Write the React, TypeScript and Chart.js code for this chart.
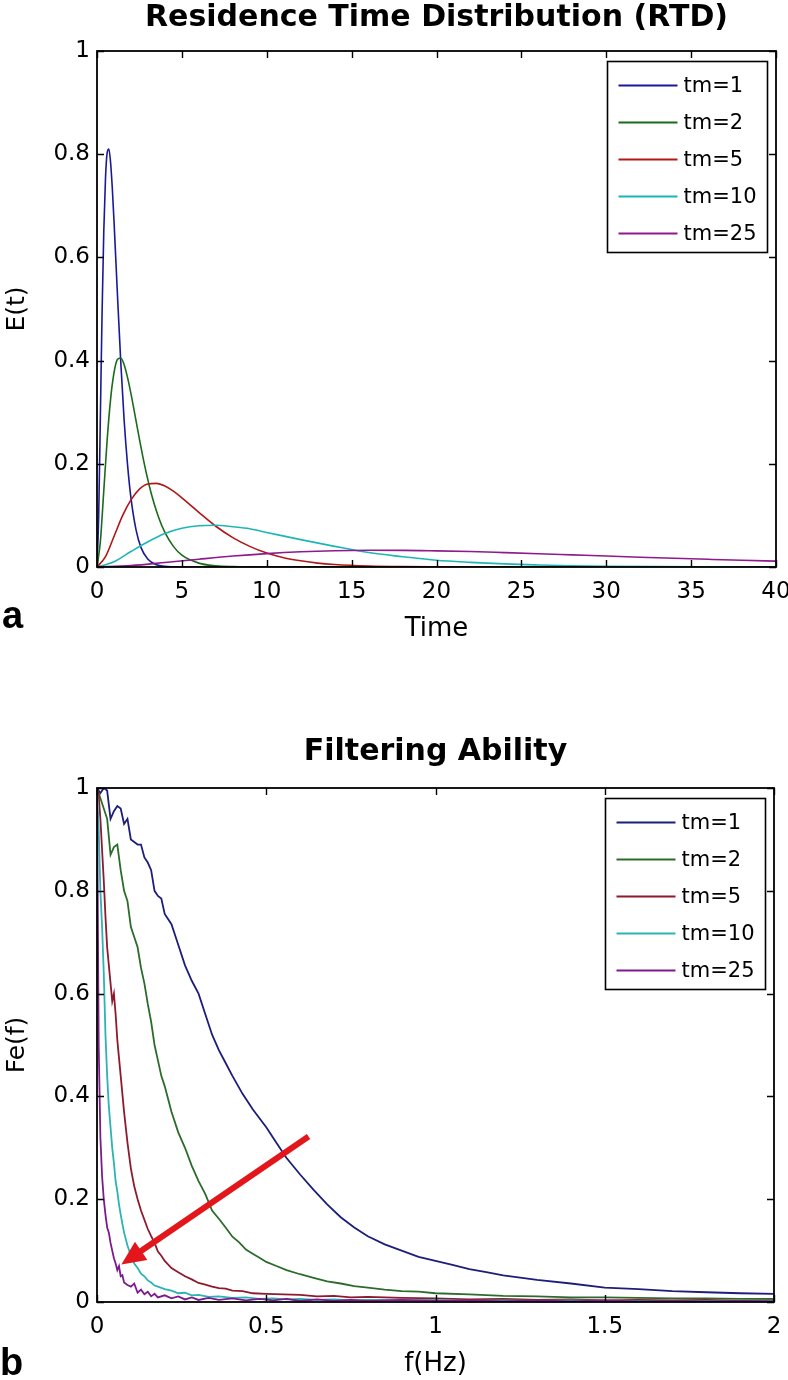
import React, { useEffect, useRef } from 'react';
import { Chart, registerables } from 'chart.js';

Chart.register(...registerables);

// ---------- shared ----------
const SERIES_LABELS = ['tm=1', 'tm=2', 'tm=5', 'tm=10', 'tm=25'];
const RTD_COLORS = ['#1a1a98', '#1b6b1b', '#b01818', '#1fb5b5', '#8e1a8e'];
const FE_COLORS = ['#1d1d7a', '#2b6b2b', '#8e1a2e', '#2cb3b3', '#7c1a8e'];
const Y_TICKS = [0, 0.2, 0.4, 0.6, 0.8, 1];

// ---------- panel a : Residence Time Distribution ----------
const TIME_TICKS = [0, 5, 10, 15, 20, 25, 30, 35, 40];

const TIME_TM1 = [0, 0.1, 0.2, 0.3, 0.4, 0.5, 0.6, 0.7, 0.8, 0.9, 1.0, 1.2, 1.4, 1.6, 1.8, 2.0, 2.3, 2.6, 3.0, 3.5, 4, 5, 6, 8, 10, 15, 20, 25, 30, 35, 40];
const E_TM1 = [0, 0.1, 0.296, 0.494, 0.651, 0.753, 0.803, 0.81, 0.784, 0.735, 0.672, 0.531, 0.397, 0.284, 0.198, 0.134, 0.072, 0.037, 0.015, 0.0045, 0.0013, 0.0001, 0, 0, 0, 0, 0, 0, 0, 0, 0];

const TIME_TM2 = [0, 0.2, 0.4, 0.6, 0.8, 1.0, 1.2, 1.4, 1.6, 1.8, 2.0, 2.2, 2.5, 2.8, 3.2, 3.6, 4, 4.5, 5, 6, 7, 8, 10, 15, 20, 25, 30, 35, 40];
const E_TM2 = [0, 0.05, 0.148, 0.247, 0.325, 0.376, 0.402, 0.405, 0.392, 0.367, 0.336, 0.301, 0.248, 0.198, 0.142, 0.099, 0.067, 0.04, 0.023, 0.0075, 0.0023, 0.0007, 0, 0, 0, 0, 0, 0, 0];

const TIME_TM5 = [0, 0.5, 1, 1.5, 2, 2.5, 3, 3.5, 4, 4.5, 5, 6, 7, 8, 9, 10, 11, 12, 13, 14, 16, 18, 20, 25, 30, 35, 40];
const E_TM5 = [0, 0.02, 0.059, 0.099, 0.13, 0.151, 0.161, 0.162, 0.157, 0.147, 0.134, 0.106, 0.079, 0.057, 0.04, 0.027, 0.018, 0.012, 0.0075, 0.0048, 0.0019, 0.0007, 0.0003, 0, 0, 0, 0];

const TIME_TM10 = [0, 1, 2, 3, 4, 5, 6, 7, 8, 9, 10, 12, 14, 16, 18, 20, 22, 24, 26, 28, 30, 33, 36, 40];
const E_TM10 = [0, 0.01, 0.03, 0.049, 0.065, 0.075, 0.08, 0.081, 0.078, 0.074, 0.067, 0.053, 0.04, 0.028, 0.02, 0.013, 0.009, 0.006, 0.004, 0.0024, 0.0015, 0.0007, 0.0004, 0.0001];

const TIME_TM25 = [0, 2, 4, 6, 8, 10, 12, 14, 16, 18, 20, 22, 24, 26, 28, 30, 32, 34, 36, 38, 40];
const E_TM25 = [0, 0.0027, 0.0086, 0.0151, 0.0212, 0.026, 0.0295, 0.0316, 0.0324, 0.0323, 0.0313, 0.0299, 0.0279, 0.0258, 0.0235, 0.0212, 0.019, 0.0169, 0.0149, 0.013, 0.0114];

// ---------- panel b : Filtering Ability ----------
const FREQ_TICKS = [0, 0.5, 1, 1.5, 2];

const FREQ_TM1 = [0, 0.01, 0.02, 0.03, 0.04, 0.05, 0.06, 0.07, 0.08, 0.09, 0.1, 0.11, 0.12, 0.13, 0.14, 0.15, 0.16, 0.17, 0.18, 0.19, 0.2, 0.22, 0.24, 0.26, 0.28, 0.3, 0.32, 0.34, 0.36, 0.38, 0.4, 0.43, 0.46, 0.5, 0.53, 0.56, 0.6, 0.64, 0.68, 0.72, 0.76, 0.8, 0.85, 0.9, 0.95, 1.0, 1.05, 1.1, 1.15, 1.2, 1.3, 1.4, 1.5, 1.6, 1.7, 1.8, 1.9, 2.0];
const FE_TM1 = [1.0, 0.99, 1.0, 0.995, 0.94, 0.955, 0.965, 0.96, 0.93, 0.94, 0.9, 0.895, 0.89, 0.89, 0.865, 0.855, 0.84, 0.8, 0.79, 0.785, 0.755, 0.735, 0.695, 0.655, 0.625, 0.6, 0.56, 0.52, 0.49, 0.465, 0.44, 0.405, 0.375, 0.34, 0.31, 0.28, 0.248, 0.218, 0.19, 0.165, 0.145, 0.128, 0.112, 0.1, 0.088, 0.08, 0.072, 0.064, 0.058, 0.052, 0.043, 0.036, 0.028, 0.025, 0.021, 0.019, 0.017, 0.016];

const FREQ_TM2 = [0, 0.01, 0.02, 0.03, 0.04, 0.05, 0.06, 0.07, 0.08, 0.09, 0.1, 0.11, 0.12, 0.13, 0.14, 0.15, 0.16, 0.17, 0.18, 0.19, 0.2, 0.22, 0.24, 0.26, 0.28, 0.3, 0.32, 0.34, 0.36, 0.38, 0.4, 0.42, 0.44, 0.46, 0.48, 0.5, 0.53, 0.56, 0.6, 0.64, 0.68, 0.72, 0.76, 0.8, 0.85, 0.9, 0.95, 1.0, 1.1, 1.2, 1.3, 1.4, 1.5, 1.6, 1.7, 1.8, 1.9, 2.0];
const FE_TM2 = [1.0, 0.98, 0.96, 0.94, 0.87, 0.885, 0.89, 0.84, 0.8, 0.78, 0.73, 0.71, 0.69, 0.65, 0.62, 0.58, 0.545, 0.5, 0.47, 0.44, 0.42, 0.37, 0.33, 0.3, 0.265, 0.235, 0.21, 0.178, 0.162, 0.145, 0.127, 0.116, 0.102, 0.094, 0.086, 0.078, 0.07, 0.062, 0.054, 0.047, 0.04, 0.036, 0.031, 0.028, 0.024, 0.021, 0.02, 0.017, 0.015, 0.012, 0.011, 0.009, 0.009, 0.008, 0.007, 0.007, 0.006, 0.006];

const FREQ_TM5 = [0, 0.005, 0.01, 0.015, 0.02, 0.025, 0.03, 0.035, 0.04, 0.045, 0.05, 0.055, 0.06, 0.07, 0.08, 0.09, 0.1, 0.11, 0.12, 0.13, 0.14, 0.15, 0.16, 0.17, 0.18, 0.19, 0.2, 0.22, 0.24, 0.26, 0.28, 0.3, 0.32, 0.34, 0.36, 0.38, 0.4, 0.43, 0.46, 0.5, 0.55, 0.6, 0.65, 0.7, 0.75, 0.8, 0.9, 1.0, 1.1, 1.2, 1.3, 1.4, 1.5, 1.6, 1.7, 1.8, 1.9, 2.0];
const FE_TM5 = [1.0, 0.985, 0.94, 0.88, 0.82, 0.75, 0.69, 0.655, 0.62, 0.585, 0.6, 0.56, 0.51, 0.44, 0.37, 0.31, 0.26, 0.225, 0.2, 0.178, 0.16, 0.142, 0.128, 0.115, 0.098, 0.09, 0.08, 0.066, 0.058, 0.05, 0.044, 0.037, 0.034, 0.03, 0.027, 0.026, 0.022, 0.021, 0.017, 0.016, 0.015, 0.014, 0.011, 0.012, 0.009, 0.01, 0.008, 0.007, 0.005, 0.006, 0.004, 0.005, 0.003, 0.004, 0.003, 0.004, 0.002, 0.003];

const FREQ_FINE = [0, 0.005, 0.01, 0.015, 0.02, 0.025, 0.03, 0.035, 0.04, 0.045, 0.05, 0.055, 0.06, 0.065, 0.07, 0.075, 0.08, 0.09, 0.1, 0.11, 0.12, 0.13, 0.14, 0.15, 0.16, 0.17, 0.18, 0.2, 0.22, 0.24, 0.26, 0.28, 0.3, 0.33, 0.36, 0.4, 0.44, 0.48, 0.52, 0.56, 0.6, 0.65, 0.7, 0.75, 0.8, 0.9, 1.0, 1.1, 1.2, 1.3, 1.4, 1.5, 1.6, 1.7, 1.8, 1.9, 2.0];
const FE_TM10 = [1.0, 0.92, 0.8, 0.73, 0.64, 0.52, 0.44, 0.38, 0.34, 0.3, 0.27, 0.235, 0.215, 0.19, 0.17, 0.152, 0.135, 0.11, 0.09, 0.075, 0.066, 0.055, 0.05, 0.042, 0.038, 0.032, 0.03, 0.025, 0.022, 0.017, 0.018, 0.013, 0.014, 0.01, 0.011, 0.008, 0.009, 0.006, 0.007, 0.005, 0.006, 0.004, 0.005, 0.003, 0.004, 0.003, 0.004, 0.002, 0.003, 0.002, 0.003, 0.002, 0.002, 0.001, 0.002, 0.001, 0.002];
const FE_TM25 = [1.0, 0.5, 0.32, 0.245, 0.2, 0.17, 0.145, 0.135, 0.115, 0.1, 0.085, 0.075, 0.062, 0.07, 0.05, 0.052, 0.038, 0.033, 0.03, 0.036, 0.018, 0.024, 0.015, 0.02, 0.011, 0.016, 0.009, 0.013, 0.007, 0.011, 0.005, 0.009, 0.004, 0.008, 0.004, 0.007, 0.003, 0.006, 0.003, 0.006, 0.002, 0.005, 0.002, 0.004, 0.002, 0.004, 0.002, 0.003, 0.001, 0.003, 0.001, 0.003, 0.001, 0.002, 0.001, 0.002, 0.001];

// trend arrow (data coordinates of panel b): tail and tip
const ARROW_FROM = [0.625, 0.322];
const ARROW_TO = [0.072, 0.073];

// ---------- helpers ----------
const FONT = 'DejaVu Sans';
const pts = (xs: number[], ys: number[]) => xs.map((x, i) => ({ x, y: ys[i] }));

const frameTicksPlugin = {
  id: 'matlabFrame',
  afterDraw(chart: any) {
    const { ctx, chartArea, scales } = chart;
    const { left, right, top, bottom } = chartArea;
    ctx.save();
    ctx.strokeStyle = '#000';
    ctx.lineWidth = 1.4;
    ctx.beginPath();
    const len = 7;
    scales.x.ticks.forEach((t: any) => {
      const px = Math.round(scales.x.getPixelForValue(t.value)) + 0.5;
      ctx.moveTo(px, bottom);
      ctx.lineTo(px, bottom - len);
      ctx.moveTo(px, top);
      ctx.lineTo(px, top + len);
    });
    scales.y.ticks.forEach((t: any) => {
      const py = Math.round(scales.y.getPixelForValue(t.value)) + 0.5;
      ctx.moveTo(left, py);
      ctx.lineTo(left + len, py);
      ctx.moveTo(right, py);
      ctx.lineTo(right - len, py);
    });
    ctx.stroke();
    ctx.lineWidth = 1.8;
    ctx.strokeRect(left, top, right - left, bottom - top);
    ctx.restore();
  },
};

const boxLegendPlugin = {
  id: 'boxLegend',
  afterDraw(chart: any) {
    const { ctx, chartArea } = chart;
    const w = 160;
    const h = 191;
    const x0 = Math.round(chartArea.right - 9 - w) + 0.5;
    const y0 = Math.round(chartArea.top + 10) + 0.5;
    ctx.save();
    ctx.fillStyle = '#fff';
    ctx.fillRect(x0, y0, w, h);
    ctx.strokeStyle = '#000';
    ctx.lineWidth = 1.6;
    ctx.strokeRect(x0, y0, w, h);
    ctx.font = `21px "${FONT}"`;
    ctx.textBaseline = 'middle';
    ctx.textAlign = 'left';
    chart.data.datasets.forEach((ds: any, i: number) => {
      const y = y0 + 24 + i * 37;
      ctx.strokeStyle = ds.borderColor;
      ctx.lineWidth = 1.8;
      ctx.beginPath();
      ctx.moveTo(x0 + 11, y);
      ctx.lineTo(x0 + 70, y);
      ctx.stroke();
      ctx.fillStyle = '#000';
      ctx.fillText(ds.label, x0 + 76, y + 1);
    });
    ctx.restore();
  },
};

const arrowPlugin = {
  id: 'trendArrow',
  afterDatasetsDraw(chart: any) {
    const { ctx, scales } = chart;
    const x1 = scales.x.getPixelForValue(ARROW_FROM[0]);
    const y1 = scales.y.getPixelForValue(ARROW_FROM[1]);
    const x2 = scales.x.getPixelForValue(ARROW_TO[0]);
    const y2 = scales.y.getPixelForValue(ARROW_TO[1]);
    const ang = Math.atan2(y2 - y1, x2 - x1);
    const headLen = 24;
    const headW = 11;
    const bx = x2 - headLen * Math.cos(ang);
    const by = y2 - headLen * Math.sin(ang);
    ctx.save();
    ctx.strokeStyle = '#e3161b';
    ctx.fillStyle = '#e3161b';
    ctx.lineWidth = 6;
    ctx.beginPath();
    ctx.moveTo(x1, y1);
    ctx.lineTo(bx + 2 * Math.cos(ang), by + 2 * Math.sin(ang));
    ctx.stroke();
    ctx.beginPath();
    ctx.moveTo(x2, y2);
    ctx.lineTo(bx + headW * Math.sin(ang), by - headW * Math.cos(ang));
    ctx.lineTo(bx - headW * Math.sin(ang), by + headW * Math.cos(ang));
    ctx.closePath();
    ctx.fill();
    ctx.restore();
  },
};

function makeDatasets(series: { x: number[]; y: number[] }[], colors: string[], width: number, smooth: boolean) {
  return series.map((s, i) => ({
    label: SERIES_LABELS[i],
    data: pts(s.x, s.y),
    borderColor: colors[i],
    backgroundColor: colors[i],
    borderWidth: width,
    pointRadius: 0,
    fill: false,
    tension: 0,
    cubicInterpolationMode: smooth ? 'monotone' : 'default',
    order: series.length - 1 - i,
  }));
}

function makeOptions(p: {
  title: string;
  titlePad: { top: number; bottom: number };
  yTitle: string;
  xTitle: string;
  xMax: number;
  xTicks: number[];
  xHeight: number;
  xTitlePadBottom: number;
  rightPad: number;
}) {
  return {
    responsive: false,
    animation: false,
    events: [],
    layout: { padding: { left: 0, right: p.rightPad, top: 0, bottom: 0 } },
    plugins: {
      legend: { display: false },
      tooltip: { enabled: false },
      title: {
        display: true,
        text: p.title,
        color: '#000',
        fullSize: false,
        font: { family: FONT, size: 30, weight: 'bold', lineHeight: 1.2 },
        padding: p.titlePad,
      },
    },
    scales: {
      x: {
        type: 'linear',
        min: 0,
        max: p.xMax,
        afterBuildTicks: (s: any) => {
          s.ticks = p.xTicks.map((v) => ({ value: v }));
        },
        afterFit: (s: any) => {
          s.height = p.xHeight;
          s.paddingLeft = 0;
          s.paddingRight = 0;
        },
        ticks: {
          color: '#000',
          padding: 11,
          maxRotation: 0,
          autoSkip: false,
          font: { family: FONT, size: 23 },
          callback: (v: any) => String(v),
        },
        grid: { display: false, drawTicks: false },
        border: { display: false },
        title: {
          display: true,
          text: p.xTitle,
          color: '#000',
          font: { family: FONT, size: 26, lineHeight: 1.2 },
          padding: { top: 0, bottom: p.xTitlePadBottom },
        },
      },
      y: {
        type: 'linear',
        min: 0,
        max: 1,
        afterBuildTicks: (s: any) => {
          s.ticks = Y_TICKS.map((v) => ({ value: v }));
        },
        afterFit: (s: any) => {
          s.width = 97;
          s.paddingTop = 0;
          s.paddingBottom = 0;
        },
        ticks: {
          color: '#000',
          padding: 7,
          font: { family: FONT, size: 23 },
          callback: (v: any) => String(v),
        },
        grid: { display: false, drawTicks: false },
        border: { display: false },
        title: {
          display: true,
          text: p.yTitle,
          color: '#000',
          font: { family: FONT, size: 25, lineHeight: 1.2 },
          padding: { top: 2, bottom: 0 },
        },
      },
    },
  };
}

export default function App() {
  const refA = useRef<HTMLCanvasElement>(null);
  const refB = useRef<HTMLCanvasElement>(null);

  useEffect(() => {
    const chartA = new Chart(refA.current as HTMLCanvasElement, {
      type: 'line',
      data: {
        datasets: makeDatasets(
          [
            { x: TIME_TM1, y: E_TM1 },
            { x: TIME_TM2, y: E_TM2 },
            { x: TIME_TM5, y: E_TM5 },
            { x: TIME_TM10, y: E_TM10 },
            { x: TIME_TM25, y: E_TM25 },
          ],
          RTD_COLORS,
          1.6,
          true
        ) as any,
      },
      options: makeOptions({
        title: 'Residence Time Distribution (RTD)',
        titlePad: { top: 0, bottom: 15 },
        yTitle: 'E(t)',
        xTitle: 'Time',
        xMax: 40,
        xTicks: TIME_TICKS,
        xHeight: 93,
        xTitlePadBottom: 15.4,
        rightPad: 12,
      }) as any,
      plugins: [frameTicksPlugin, boxLegendPlugin],
    });

    const chartB = new Chart(refB.current as HTMLCanvasElement, {
      type: 'line',
      data: {
        datasets: makeDatasets(
          [
            { x: FREQ_TM1, y: FE_TM1 },
            { x: FREQ_TM2, y: FE_TM2 },
            { x: FREQ_TM5, y: FE_TM5 },
            { x: FREQ_FINE, y: FE_TM10 },
            { x: FREQ_FINE, y: FE_TM25 },
          ],
          FE_COLORS,
          1.8,
          false
        ) as any,
      },
      options: makeOptions({
        title: 'Filtering Ability',
        titlePad: { top: 54, bottom: 18 },
        yTitle: 'Fe(f)',
        xTitle: 'f(Hz)',
        xMax: 2,
        xTicks: FREQ_TICKS,
        xHeight: 78,
        xTitlePadBottom: 0.4,
        rightPad: 14,
      }) as any,
      plugins: [arrowPlugin, frameTicksPlugin, boxLegendPlugin],
    });

    return () => {
      chartA.destroy();
      chartB.destroy();
    };
  }, []);

  const letter: React.CSSProperties = {
    position: 'absolute',
    left: 2,
    fontFamily: '"Liberation Sans", Arial, sans-serif',
    fontWeight: 'bold',
    fontSize: 38,
    lineHeight: '38px',
    color: '#000',
  };

  return (
    <div
      style={{
        position: 'absolute',
        left: 0,
        top: 0,
        width: 788,
        height: 1380,
        background: '#fff',
        overflow: 'hidden',
      }}
    >
      <canvas ref={refA} width={788} height={660} style={{ position: 'absolute', left: 0, top: 0 }} />
      <canvas ref={refB} width={788} height={700} style={{ position: 'absolute', left: 0, top: 680 }} />
      <div style={{ ...letter, top: 596 }}>a</div>
      <div style={{ ...letter, top: 1343, left: 0 }}>b</div>
    </div>
  );
}
